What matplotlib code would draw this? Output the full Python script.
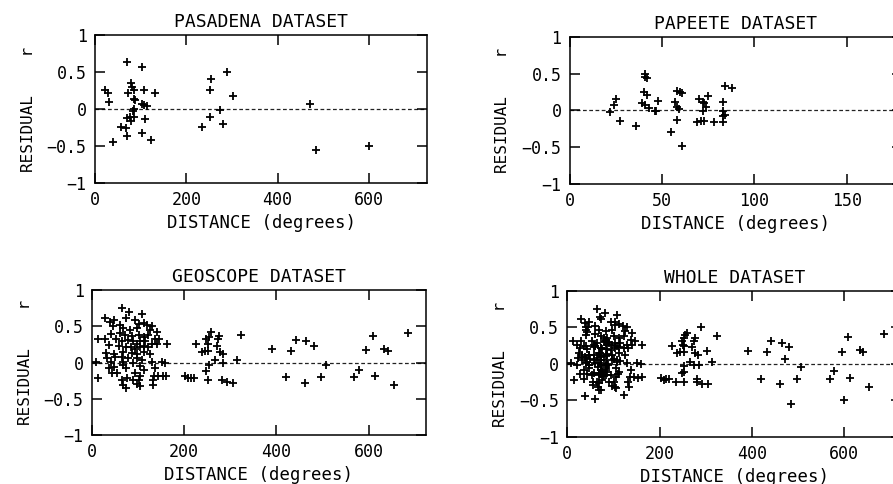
import numpy as np
import matplotlib
matplotlib.use("Agg")
import matplotlib.pyplot as plt


# =========================
# Data
# =========================
pasadena_dist = [70, 103, 21, 28, 31, 79, 81, 86, 72, 107, 132, 85, 87, 102, 108,
                 115, 85, 84, 69, 76, 85, 79, 109, 56, 68, 69, 104, 39, 123,
                 255, 290, 252, 302, 274, 252, 281, 235, 471, 485, 600]
pasadena_res = [0.64, 0.57, 0.26, 0.22, 0.10, 0.35, 0.30, 0.26, 0.22, 0.25, 0.22,
                0.14, 0.12, 0.07, 0.05, 0.04, 0.00, -0.03, -0.12, -0.11, -0.11,
                -0.16, -0.14, -0.25, -0.26, -0.36, -0.32, -0.44, -0.42,
                0.40, 0.50, 0.25, 0.18, -0.02, -0.11, -0.20, -0.25, 0.07, -0.55, -0.50]

papeete_dist = [22, 25, 24, 27, 36, 41, 42, 41, 40, 42, 39, 41, 43, 46, 47, 48,
                55, 58, 58, 60, 61, 57, 58, 59, 61, 70, 72, 73, 75, 72, 74, 69,
                71, 73, 78, 83, 84, 88, 83, 83, 83, 84]
papeete_res = [-0.02, 0.15, 0.08, -0.14, -0.21, 0.50, 0.44, 0.46, 0.25, 0.21, 0.10,
               0.08, 0.03, -0.01, -0.01, 0.13, -0.29, -0.13, 0.26, 0.25, 0.24,
               0.12, 0.05, 0.02, -0.48, 0.15, 0.12, 0.10, 0.20, -0.01, 0.05,
               -0.15, -0.14, -0.14, -0.15, 0.11, 0.33, 0.30, -0.01, -0.08, -0.15, -0.06]

geoscope_dist = [65, 81, 108, 29, 38, 48, 74, 94, 103, 112, 120, 130, 45, 60, 126,
                 68, 83, 97, 140, 41, 61, 72, 86, 101, 112, 122, 137, 146, 162,
                 29, 53, 65, 79, 90, 97, 104, 115, 130, 36, 58, 74, 84, 94, 104,
                 113, 122, 141, 31, 47, 68, 86, 97, 112, 126, 32, 50, 65, 79, 97,
                 108, 41, 68, 89, 130, 151, 159, 9, 48, 67, 74, 105, 113, 137, 36,
                 43, 54, 94, 105, 135, 144, 153, 161, 14, 65, 76, 90, 101, 132, 67,
                 74, 97, 105, 133, 13,
                 202, 209, 214, 221, 226, 238, 245, 252, 248, 252, 254, 248, 254,
                 259, 251, 267, 270, 274, 276, 277, 283, 285, 281, 293, 305, 314,
                 324, 391, 432, 442, 465, 481, 420, 462, 497, 507, 569, 579, 595,
                 609, 613, 634, 641, 655, 686]
geoscope_res = [0.75, 0.70, 0.67, 0.62, 0.56, 0.58, 0.61, 0.58, 0.53, 0.55, 0.52,
                0.50, 0.50, 0.52, 0.45, 0.47, 0.45, 0.47, 0.42, 0.40, 0.41, 0.38,
                0.36, 0.38, 0.35, 0.38, 0.33, 0.32, 0.26, 0.32, 0.32, 0.29, 0.31,
                0.29, 0.26, 0.29, 0.29, 0.26, 0.24, 0.23, 0.22, 0.21, 0.19, 0.22,
                0.23, 0.22, 0.26, 0.13, 0.12, 0.15, 0.13, 0.12, 0.15, 0.12, 0.06,
                0.07, 0.08, 0.06, 0.06, 0.03, 0.01, 0.01, -0.01, 0.01, 0.01, 0.00,
                0.01, -0.06, -0.04, -0.08, -0.05, -0.11, -0.08, -0.08, -0.14, -0.15,
                -0.15, -0.18, -0.18, -0.18, -0.19, -0.18, -0.22, -0.24, -0.22, -0.24,
                -0.24, -0.24, -0.31, -0.35, -0.30, -0.33, -0.31, 0.32,
                -0.19, -0.22, -0.21, -0.21, 0.25, 0.15, 0.16, 0.16, -0.12, -0.24,
                -0.03, 0.32, 0.35, 0.42, 0.26, 0.03, 0.23, 0.32, 0.36, 0.15, 0.12,
                -0.01, -0.24, -0.27, -0.28, 0.03, 0.38, 0.18, 0.16, 0.31, 0.29,
                0.23, -0.20, -0.28, -0.20, -0.04, -0.20, -0.10, 0.17, 0.37, -0.19,
                0.19, 0.16, -0.31, 0.41]

titles = ["PASADENA DATASET", "PAPEETE DATASET", "GEOSCOPE DATASET", "WHOLE DATASET"]
xlims = [(0, 728), (0, 180), (0, 724), (0, 724)]
xticks_list = [[0, 200, 400, 600], [0, 50, 100, 150], [0, 200, 400, 600], [0, 200, 400, 600]]
yticks = [-1, -0.5, 0, 0.5, 1]
ytick_labels = ["\u22121", "\u22120.5", "0", "0.5", "1"]


# =========================
# Plot
# =========================
plt.rcParams.update({
    "font.family": ["DejaVu Sans Mono"],
    "axes.linewidth": 1.1,
})

fig = plt.figure(figsize=(8.93, 4.84), dpi=100)

positions = [
    [0.1064, 0.6219, 0.372, 0.3058],
    [0.6380, 0.6198, 0.372, 0.3038],
    [0.1030, 0.1012, 0.374, 0.2996],
    [0.6353, 0.0971, 0.374, 0.3017],
]

whole_dist = pasadena_dist + papeete_dist + geoscope_dist
whole_res = pasadena_res + papeete_res + geoscope_res
datasets = [
    (pasadena_dist, pasadena_res),
    (papeete_dist, papeete_res),
    (geoscope_dist, geoscope_res),
    (whole_dist, whole_res),
]

for pos, (xd, yd), title, xl, xt in zip(positions, datasets, titles, xlims, xticks_list):
    ax = fig.add_axes(pos)
    ax.axhline(0, color="#222222", lw=0.9, ls=(0, (3, 2)), zorder=1)
    ax.plot(xd, yd, ls="none", marker="+", ms=5.5, mew=1.3, color="black", zorder=2)
    ax.set_xlim(*xl)
    ax.set_ylim(-1, 1)
    ax.set_xticks(xt)
    ax.set_xticklabels([str(v) for v in xt])
    ax.set_yticks(yticks)
    ax.set_yticklabels(ytick_labels)
    ax.tick_params(direction="in", length=7, width=1.1, top=True, right=True,
                   labelsize=12, pad=6)
    ax.set_title(title, fontsize=13, pad=6)
    ax.set_xlabel("DISTANCE (degrees)", fontsize=12.5, labelpad=3)
    ax.set_ylabel("RESIDUAL    r", fontsize=11.5, labelpad=8)

fig.savefig("out.png", dpi=100)
plt.close(fig)
